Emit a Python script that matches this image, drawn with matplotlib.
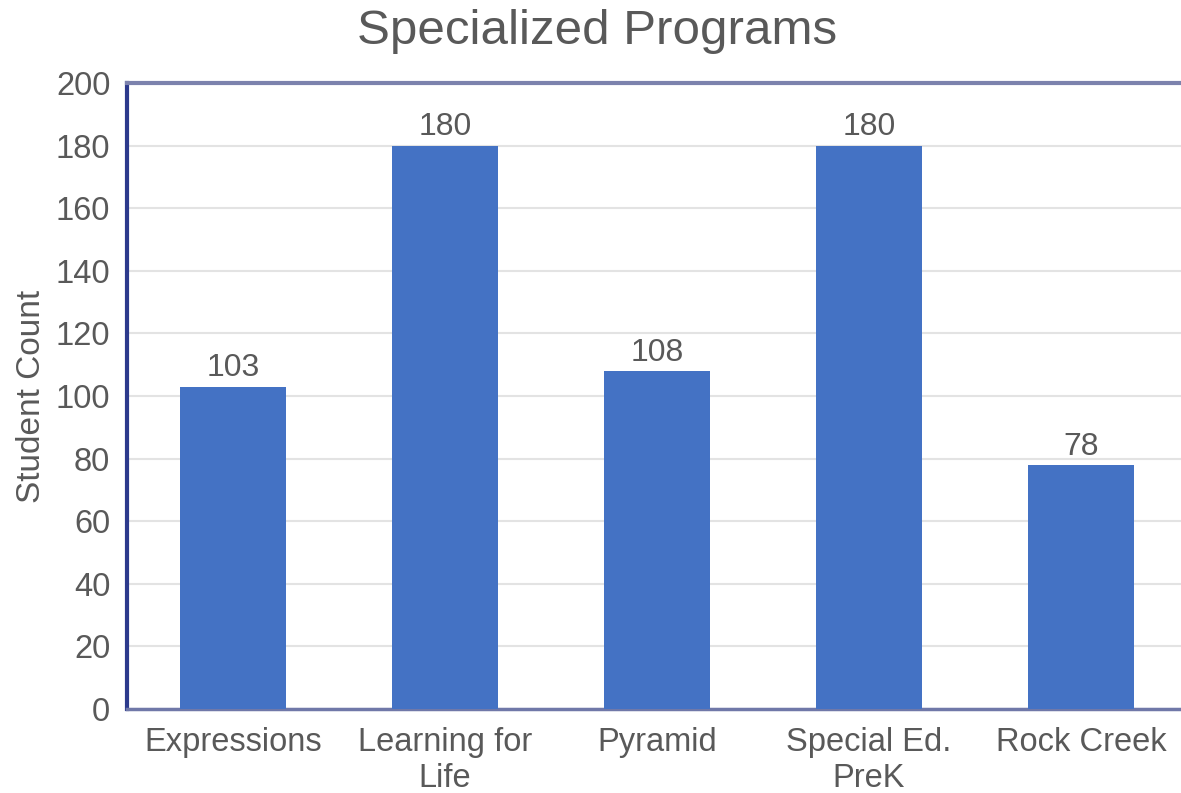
import matplotlib
matplotlib.use("Agg")
import matplotlib.pyplot as plt

categories = ["Expressions", "Learning for\nLife", "Pyramid", "Special Ed.\nPreK", "Rock Creek"]
values = [103, 180, 108, 180, 78]
yticks = [0, 20, 40, 60, 80, 100, 120, 140, 160, 180, 200]

plt.rcParams['font.family'] = ['Liberation Sans', 'DejaVu Sans']
TXT = '#595959'

fig = plt.figure(figsize=(11.81, 7.93), dpi=100)
ax = fig.add_axes([127/1181, 84/793, 1060/1181, 626/793])

x = list(range(len(categories)))
bars = ax.bar(x, values, width=0.5, color='#4472c4', zorder=3)
for xi, v in zip(x, values):
    ax.text(xi, v + 1.0, str(v), ha='center', va='bottom', fontsize=23, color=TXT, zorder=4)

ax.set_xlim(-0.5, len(categories) - 0.5)
ax.set_ylim(0, 200)
ax.set_yticks(yticks)
ax.set_yticklabels([str(t) for t in yticks])
ax.set_xticks(x)
ax.set_xticklabels(categories, linespacing=1.2)
ax.tick_params(axis='both', length=0, labelsize=23.5, labelcolor=TXT)
ax.tick_params(axis='y', pad=12)
ax.tick_params(axis='x', pad=13)

ax.yaxis.grid(True, color='#e3e3e3', linewidth=1.5, zorder=0)
ax.set_axisbelow(True)

ax.spines['left'].set_color('#2c3a8c')
ax.spines['left'].set_linewidth(3)
ax.spines['top'].set_color('#7c82ad')
ax.spines['top'].set_linewidth(3)
ax.spines['bottom'].set_color('#7078a8')
ax.spines['bottom'].set_linewidth(2.5)
ax.spines['right'].set_visible(False)

ax.set_ylabel('Student Count', fontsize=24, color=TXT, labelpad=6)
fig.text(597/1181, 1 - 31/793, 'Specialized Programs', ha='center', va='center', fontsize=35.5, color=TXT)

fig.savefig('out.png', dpi=100)
